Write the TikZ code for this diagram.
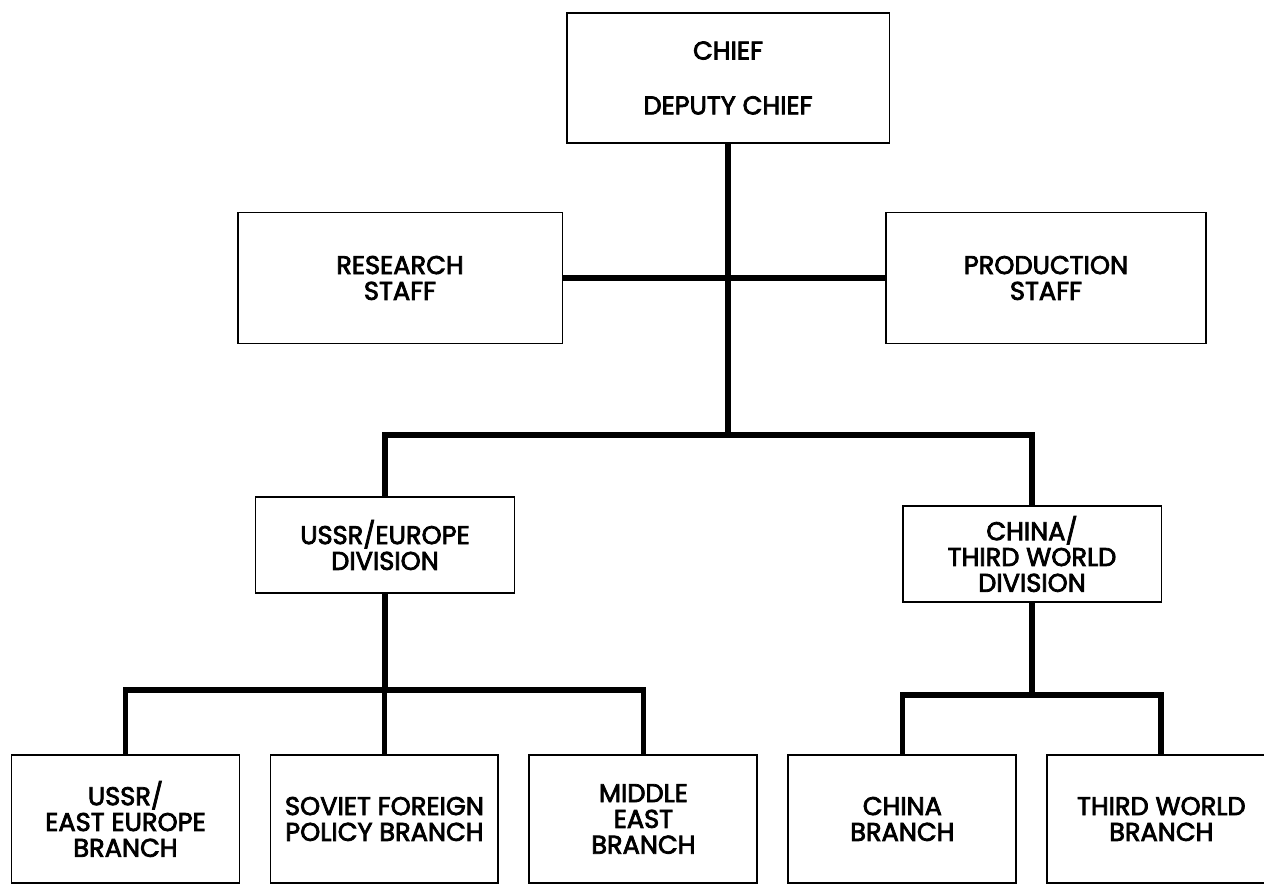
\documentclass[tikz,border=0pt]{standalone}
\usepackage{fontspec}
\newfontfamily\orgfont{Poppins}[FakeBold=3]
\usetikzlibrary{positioning}

\begin{document}
\begin{tikzpicture} [x=0.02cm,y=0.02cm,node distance=5.18cm,line width=1.1pt,
  box/.style={draw,rectangle,align=center,inner sep=0pt,font=\orgfont\fontsize{14.6}{14.7}\selectfont},
  staff/.style={box,minimum width=6.5cm,minimum height=2.62cm},
  div/.style={box,minimum width=5.18cm,minimum height=1.92cm},
  branch/.style={box,minimum width=4.56cm,minimum height=2.56cm},
  link/.style={line width=3.2pt}]

  \useasboundingbox (0,0) rectangle (1264,888);

  \node[box,minimum width=6.46cm,minimum height=2.6cm] (chief) at (728,810) {CHIEF\\[0.58cm]DEPUTY CHIEF};
  \node[staff] (rs) at (400,610) {RESEARCH\\STAFF};
  \node[staff,minimum width=6.4cm] (ps) at (1046,610) {PRODUCTION\\STAFF};

  \node[div] (ud) at (385,343) {USSR/EUROPE\\DIVISION};
  \node[div] (cd) at (1032,334) {CHINA/\\THIRD WORLD\\DIVISION};

  \node[branch] (ue) at (125.5,69) {USSR/\\EAST EUROPE\\BRANCH};
  \node[branch] (sf) [right of=ue] {SOVIET FOREIGN\\POLICY BRANCH};
  \node[branch] (me) [right of=sf] {MIDDLE\\EAST\\BRANCH};
  \node[branch] (cb) [right of=me] {CHINA\\BRANCH};
  \node[branch] (tw) [right of=cb] {THIRD WORLD\\BRANCH};

  \coordinate (divbar) at (728,453);
  \coordinate (eurbar) at (385,198);
  \coordinate (chnbar) at (1032,193);

  \draw[link] (rs) -- (ps);
  \draw[link] (chief) -- (divbar);
  \draw[link] (ud) |- (divbar) -| (cd);
  \draw[link] (ud) -- (eurbar);
  \draw[link] (ue) |- (eurbar) -| (me);
  \draw[link] (sf) -- (sf |- eurbar);
  \draw[link] (cd) -- (chnbar);
  \draw[link] (cb) |- (chnbar) -| (tw);

\end{tikzpicture}
\end{document}
